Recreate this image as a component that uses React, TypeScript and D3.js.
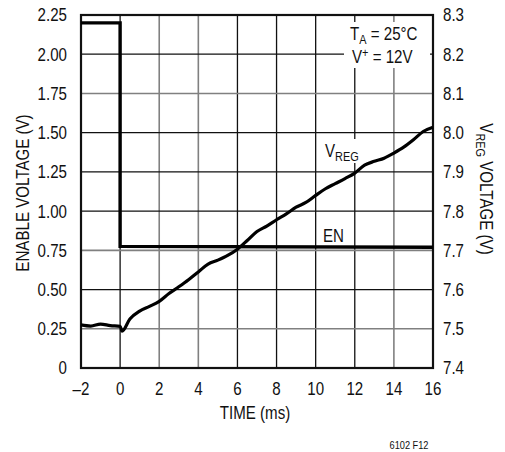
import React from "react";
import * as d3 from "d3";

const xTicks = [-2, 0, 2, 4, 6, 8, 10, 12, 14, 16];
const xTickLabels = ["–2", "0", "2", "4", "6", "8", "10", "12", "14", "16"];
const leftTicks = [0, 0.25, 0.5, 0.75, 1.0, 1.25, 1.5, 1.75, 2.0, 2.25];
const leftTickLabels = ["0", "0.25", "0.50", "0.75", "1.00", "1.25", "1.50", "1.75", "2.00", "2.25"];
const rightTicks = [7.4, 7.5, 7.6, 7.7, 7.8, 7.9, 8.0, 8.1, 8.2, 8.3];
const rightTickLabels = ["7.4", "7.5", "7.6", "7.7", "7.8", "7.9", "8.0", "8.1", "8.2", "8.3"];
const grayVertical = [2, 4, 14];
const grayHorizontal = [0.25, 0.75, 1.75];

const enTime = [-2, 0, 0, 16];
const enVolt = [2.2, 2.2, 0.775, 0.77];

const vregTime = [-2, -1.5, -1, -0.5, 0, 0.1, 0.5, 1, 1.5, 2, 2.5, 3, 3.5, 4, 4.5, 5, 5.5, 6, 6.5, 7, 7.5, 8, 8.5, 9, 9.5, 10, 10.5, 11, 11.5, 12, 12.5, 13, 13.5, 14, 14.5, 15, 15.5, 16];
const vregVolt = [7.51, 7.507, 7.512, 7.508, 7.506, 7.494, 7.525, 7.545, 7.557, 7.57, 7.59, 7.607, 7.625, 7.645, 7.665, 7.675, 7.687, 7.703, 7.725, 7.748, 7.762, 7.778, 7.793, 7.81, 7.822, 7.84, 7.857, 7.87, 7.883, 7.897, 7.917, 7.927, 7.935, 7.948, 7.963, 7.982, 8.003, 8.014];

const FONT = "'Liberation Sans', Arial, sans-serif";
const SX = 0.84;

function NT(props: { x: number; y: number; rotate?: number; anchor?: string; dy?: string; size: number; children: any }) {
  const { x, y, rotate = 0, anchor = "start", dy, size, children } = props;
  return (
    <g transform={`translate(${x},${y}) rotate(${rotate}) scale(${SX},1)`}>
      <text x={0} y={0} dy={dy} textAnchor={anchor} fontSize={size} fill="#111">{children}</text>
    </g>
  );
}

export default function App() {
  const W = 505, H = 452;
  const L = 81, R = 433, T = 15, B = 368;
  const x = d3.scaleLinear().domain([-2, 16]).range([L, R]);
  const yL = d3.scaleLinear().domain([0, 2.25]).range([B, T]);
  const yR = d3.scaleLinear().domain([7.4, 8.3]).range([B, T]);

  const enLine = d3.line<number>().x((_, i) => x(enTime[i])).y((d) => yL(d));
  const vLine = d3.line<number>().x((_, i) => x(vregTime[i])).y((d) => yR(d)).curve(d3.curveMonotoneX);

  const fs = 18;
  const sub = 13;
  return (
    <svg width={W} height={H} style={{ position: "absolute", left: 0, top: 0, background: "#fff" }} fontFamily={FONT}>
      <rect x={0} y={0} width={W} height={H} fill="#fff" />
      {xTicks.slice(1, -1).map((t) => (
        <line key={"vx" + t} x1={x(t)} x2={x(t)} y1={T} y2={B}
          stroke={grayVertical.includes(t) ? "#808080" : "#111"} strokeWidth={grayVertical.includes(t) ? 1.6 : 1.3} />
      ))}
      {leftTicks.slice(1, -1).map((t) => (
        <line key={"hy" + t} x1={L} x2={R} y1={yL(t)} y2={yL(t)}
          stroke={grayHorizontal.includes(t) ? "#808080" : "#111"} strokeWidth={grayHorizontal.includes(t) ? 1.6 : 1.3} />
      ))}
      <rect x={344} y={22} width={86} height={46} fill="#fff" />
      <rect x={321} y={139} width={44} height={24} fill="#fff" />
      <rect x={L} y={T} width={R - L} height={B - T} fill="none" stroke="#111" strokeWidth={2.2} />
      <path d={enLine(enVolt) || ""} fill="none" stroke="#000" strokeWidth={3.4} strokeLinejoin="miter" />
      <path d={vLine(vregVolt) || ""} fill="none" stroke="#000" strokeWidth={3.2} strokeLinejoin="round" />
      {xTicks.map((t, i) => (
        <NT key={"xl" + t} x={x(t)} y={395} anchor="middle" size={fs}>{xTickLabels[i]}</NT>
      ))}
      {leftTicks.map((t, i) => (
        <NT key={"ll" + t} x={67} y={yL(t)} dy="0.36em" anchor="end" size={fs}>{leftTickLabels[i]}</NT>
      ))}
      {rightTicks.map((t, i) => (
        <NT key={"rl" + t} x={443} y={yR(t)} dy="0.36em" anchor="start" size={fs}>{rightTickLabels[i]}</NT>
      ))}
      <NT x={255} y={419} anchor="middle" size={fs}>TIME (ms)</NT>
      <NT x={23} y={193} rotate={-90} anchor="middle" dy="0.36em" size={fs}>ENABLE VOLTAGE (V)</NT>
      <NT x={485} y={189} rotate={90} anchor="middle" dy="0.3em" size={fs}>
        V<tspan fontSize={sub} dy="4">REG</tspan><tspan dy="-4"> VOLTAGE (V)</tspan>
      </NT>
      <NT x={350} y={40} size={fs}>
        T<tspan fontSize={sub} dy="4">A</tspan><tspan dy="-4"> = 25°C</tspan>
      </NT>
      <NT x={352} y={63} size={fs}>
        V<tspan fontSize={sub} dy="-6">+</tspan><tspan dy="6"> = 12V</tspan>
      </NT>
      <NT x={325} y={157} size={fs}>
        V<tspan fontSize={sub} dy="4">REG</tspan>
      </NT>
      <NT x={323} y={242} size={fs}>EN</NT>
      <NT x={409} y={449} anchor="middle" size={11}>6102 F12</NT>
    </svg>
  );
}
